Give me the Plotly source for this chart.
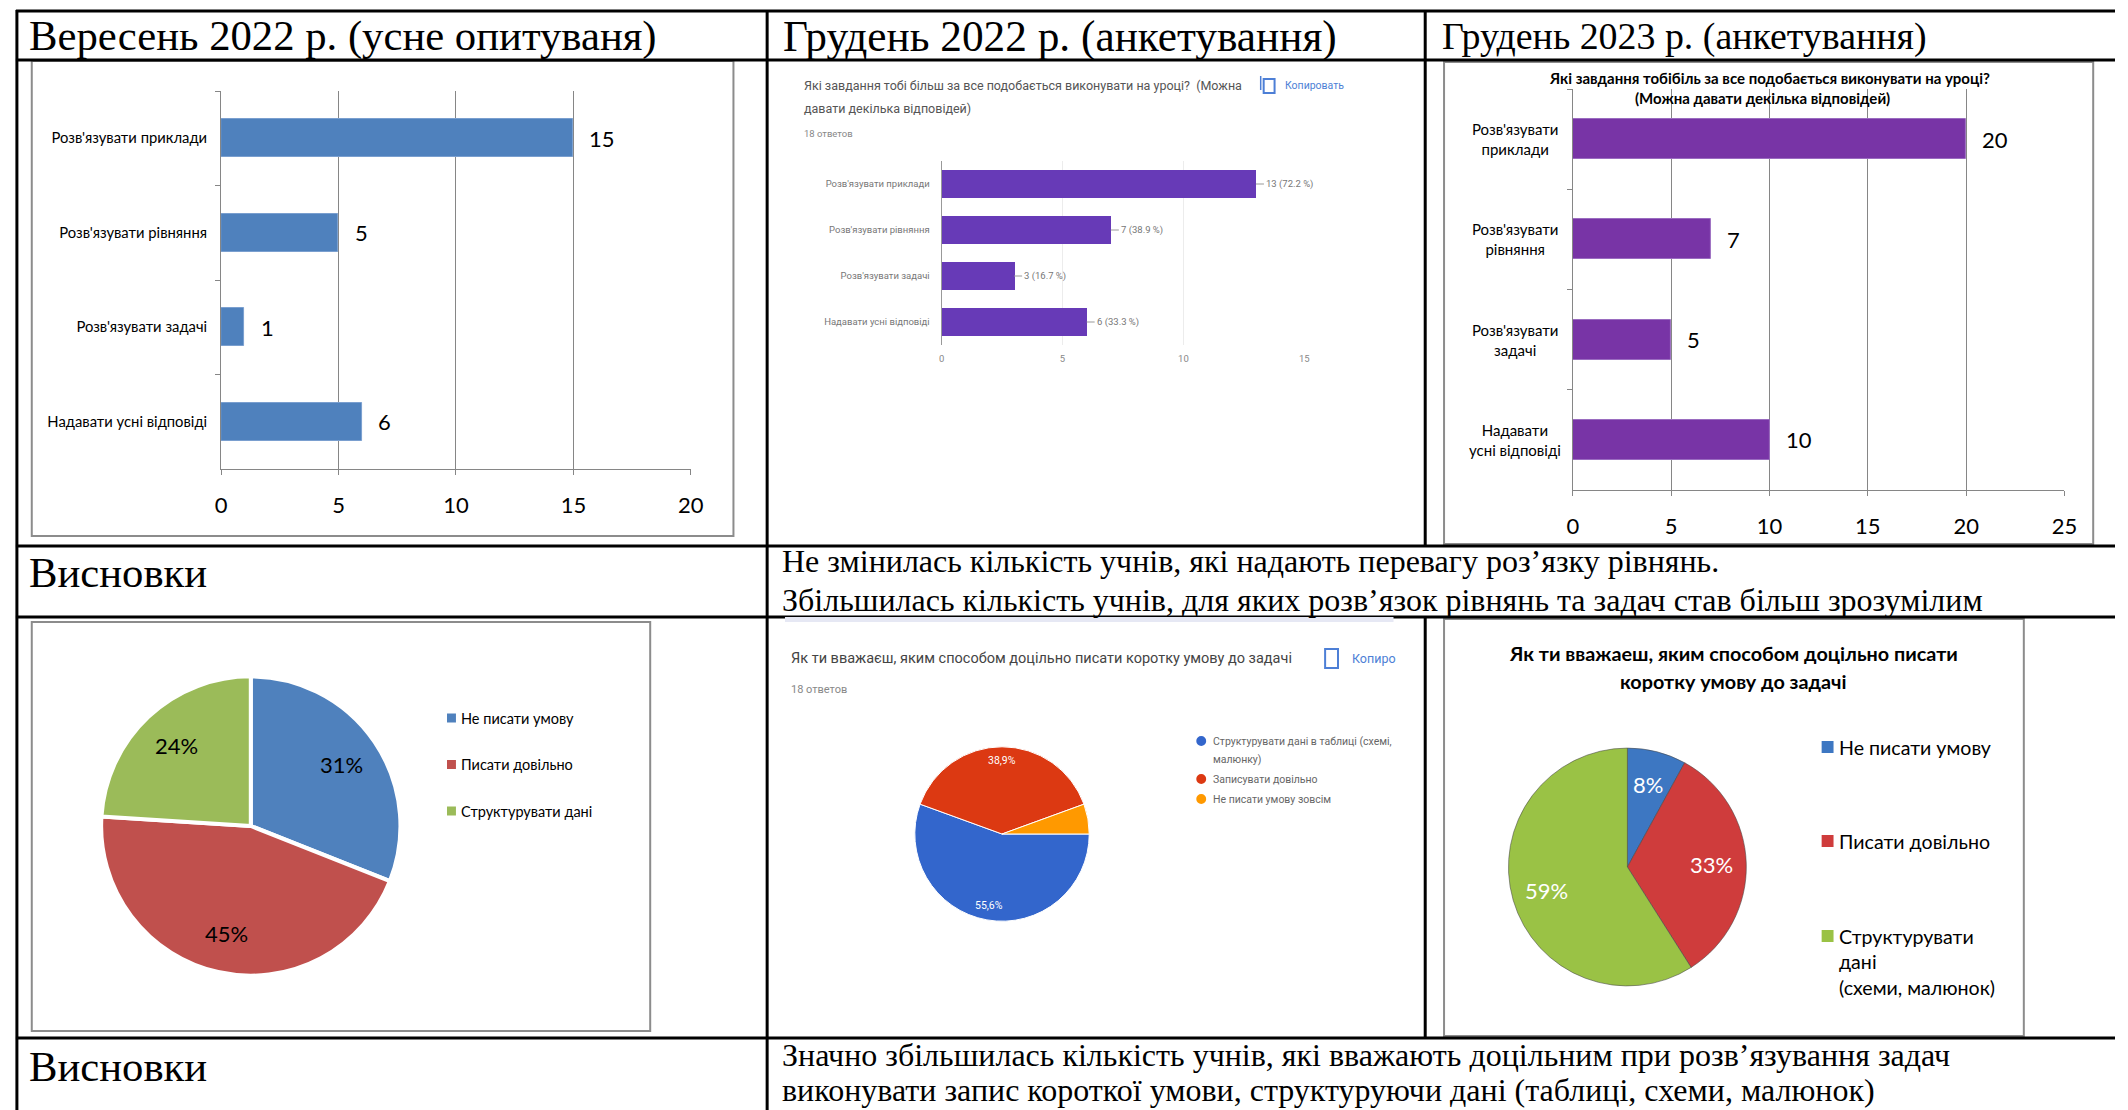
import numpy as np
import plotly.graph_objects as go

W, H = 2128, 1110
def X(px): return px / W
def Y(py): return 1 - py / H

# ---------------- data ----------------
headers = ["Вересень 2022 р. (усне опитуваня)", "Грудень 2022 р. (анкетування)", "Грудень 2023 р. (анкетування)"]
concl_label = "Висновки"
concl1 = ["Не змінилась кількість учнів, які надають перевагу роз’язку рівнянь.",
          "Збільшилась кількість учнів, для яких розв’язок рівнянь та задач став більш зрозумілим"]
concl2 = ["Значно збільшилась кількість учнів, які вважають доцільним при розв’язування задач",
          "виконувати запис короткої умови, структуруючи дані (таблиці, схеми, малюнок)"]

tasks = ["Розв'язувати приклади", "Розв'язувати рівняння", "Розв'язувати задачі", "Надавати усні відповіді"]
tasks_2023 = ["Розв'язувати<br>приклади", "Розв'язувати<br>рівняння", "Розв'язувати<br>задачі", "Надавати<br>усні відповіді"]
sep2022 = [15, 5, 1, 6]
dec2022 = [13, 7, 3, 6]
dec2022_pct = ["72.2 %", "38.9 %", "16.7 %", "33.3 %"]
dec2023 = [20, 7, 5, 10]
ticks_sep = [0, 5, 10, 15, 20]
ticks_dec22 = [0, 5, 10, 15]
ticks_dec23 = [0, 5, 10, 15, 20, 25]

g_bar_title = ["Які завдання тобі більш за все подобається виконувати на уроці?  (Можна",
               "давати декілька відповідей)"]
g_pie_title = "Як ти вважаєш, яким способом доцільно писати коротку умову до задачі"
g_answers = "18 ответов"
g_copy = "Копировать"
g_copy_short = "Копиро"
bar23_title = ["Які завдання тобібіль за все подобається виконувати на уроці?",
               "(Можна давати декілька відповідей)"]
pie23_title = ["Як ти вважаеш, яким способом доцільно писати", "коротку умову до задачі"]

pie_sep_labels = ["Не писати умову", "Писати довільно", "Структурувати дані"]
pie_sep_values = [31, 45, 24]
pie_sep_text = ["31%", "45%", "24%"]
pie_dec22_labels = ["Структурувати дані в таблиці (схемі,<br>малюнку)", "Записувати довільно", "Не писати умову зовсім"]
pie_dec22_values = [10, 7, 1]
pie_dec22_text = ["55,6%", "38,9%", ""]
pie_dec23_labels = ["Не писати умову", "Писати довільно", "Структурувати<br>дані<br>(схеми, малюнок)"]
pie_dec23_values = [8, 33, 59]
pie_dec23_text = ["8%", "33%", "59%"]

# ---------------- styles ----------------
SERIF = "Liberation Serif"
CAL = "Lato"
ROB = "Roboto"
GRID = "#868686"
C_BLUE, C_RED, C_GREEN = "#4F81BD", "#C0504D", "#9BBB59"

fig = go.Figure()
ann = []
shapes = []

def txt(x, y, s, size, color="#000", family=CAL, xanchor="left", yanchor="middle", bold=False, align="left"):
    if bold:
        s = "<b>" + s + "</b>"
    ann.append(dict(x=X(x), y=Y(y), xref="paper", yref="paper", text=s, showarrow=False,
                    font=dict(size=size, color=color, family=family),
                    xanchor=xanchor, yanchor=yanchor, align=align))

def rect(x0, y0, x1, y1, line="#8c8c8c", width=2, fill=None, layer="below"):
    shapes.append(dict(type="rect", xref="paper", yref="paper", x0=X(x0), x1=X(x1), y0=Y(y1), y1=Y(y0),
                       line=dict(color=line, width=width), fillcolor=fill, layer=layer))

def hline(y, x0, x1, w=3):
    shapes.append(dict(type="line", xref="paper", yref="paper", x0=X(x0), x1=X(x1), y0=Y(y), y1=Y(y),
                       line=dict(color="#000", width=w)))

def vline(x, y0, y1, w=3):
    shapes.append(dict(type="line", xref="paper", yref="paper", x0=X(x), x1=X(x), y0=Y(y0), y1=Y(y1),
                       line=dict(color="#000", width=w)))

# ---------------- table ----------------
for yy in [11, 60, 546, 617, 1038]:
    hline(yy, 10, W)
vline(11, 10, H)
vline(768, 10, H)
vline(1432, 10, 546)
vline(1432, 617, 1038)

txt(21, 36, headers[0], 42.7, family=SERIF)
txt(782, 36, headers[1], 43.3, family=SERIF)
txt(1447, 36, headers[2], 37.9, family=SERIF)
txt(21, 573, concl_label, 42.7, family=SERIF)
txt(21, 1066, concl_label, 42.7, family=SERIF)
txt(781, 561, concl1[0], 32, family=SERIF)
txt(781, 600, concl1[1], 32, family=SERIF)
txt(781, 1055, concl2[0], 32, family=SERIF)
txt(781, 1090, concl2[1], 32, family=SERIF)

# ---------------- panel 1: bar Sep 2022 ----------------
rect(26, 61, 734, 536)
fig.add_trace(go.Bar(x=sep2022, y=tasks, orientation="h", width=0.4,
                     marker=dict(color=C_BLUE, line=dict(color="#7a9fcf", width=1)),
                     xaxis="x", yaxis="y", hoverinfo="skip"))
for v, c in zip(sep2022, tasks):
    ann.append(dict(x=v, y=c, xref="x", yref="y", text=str(v), showarrow=False, xanchor="left",
                    xshift=14, font=dict(size=22, family=CAL, color="#000")))

# ---------------- panel 2: google bars Dec 2022 ----------------
txt(803, 86, g_bar_title[0], 12.5, color="#555", family=ROB)
txt(803, 108, g_bar_title[1], 12.5, color="#555", family=ROB)
txt(803, 133, g_answers, 9.5, color="#888", family=ROB)
txt(1289, 85, g_copy, 10.5, color="#4d7fd6", family=ROB)
shapes.append(dict(type="rect", xref="paper", yref="paper", x0=X(1269), x1=X(1280), y0=Y(93), y1=Y(79),
                   line=dict(color="#4d7fd6", width=2)))
shapes.append(dict(type="line", xref="paper", yref="paper", x0=X(1266), x1=X(1266), y0=Y(90), y1=Y(76),
                   line=dict(color="#4d7fd6", width=1.5)))
fig.add_trace(go.Bar(x=dec2022, y=tasks, orientation="h", width=0.61,
                     marker=dict(color="#673AB7", line=dict(width=0)),
                     xaxis="x2", yaxis="y2", hoverinfo="skip"))
for v, c, p in zip(dec2022, tasks, dec2022_pct):
    ann.append(dict(x=v, y=c, xref="x2", yref="y2", text=f"{v} ({p})", showarrow=True, arrowhead=0,
                    arrowwidth=1, arrowcolor="#999", ax=8, ay=0, standoff=0, startstandoff=0,
                    xanchor="left", font=dict(size=9.5, family=ROB, color="#777")))

# ---------------- panel 3: bar Dec 2023 ----------------
rect(1451, 62, 2106, 544)
txt(1779, 78, bar23_title[0], 15, xanchor="center", bold=True)
txt(1772, 98, bar23_title[1], 15, xanchor="center", bold=True)
fig.add_trace(go.Bar(x=dec2023, y=tasks, orientation="h", width=0.4,
                     marker=dict(color="#7834A6", line=dict(color="#9a6cc0", width=1)),
                     xaxis="x3", yaxis="y3", hoverinfo="skip"))
for v, c, lab in zip(dec2023, tasks, tasks_2023):
    ann.append(dict(x=v, y=c, xref="x3", yref="y3", text=str(v), showarrow=False, xanchor="left",
                    xshift=14, font=dict(size=22, family=CAL, color="#000")))
    ann.append(dict(x=X(1523), y=c, xref="paper", yref="y3", text=lab, showarrow=False, xanchor="center",
                    align="center", font=dict(size=15, family=CAL, color="#000")))

# ---------------- pies ----------------
def pie_label_xy(values, cx, cy, r, frac, rotation=0):
    v = np.array(values, float)
    mid = np.cumsum(v) - v / 2
    ang = np.radians(rotation + 360 * mid / v.sum())
    return cx + frac * r * np.sin(ang), cy - frac * r * np.cos(ang)

def add_pie(values, colors, cx, cy, r, rotation, line_color, line_w):
    fig.add_trace(go.Pie(values=values, sort=False, direction="clockwise", rotation=rotation,
                         marker=dict(colors=colors, line=dict(color=line_color, width=line_w)),
                         textinfo="none", hoverinfo="skip",
                         domain=dict(x=[X(cx - r), X(cx + r)], y=[Y(cy + r), Y(cy - r)])))

# pie 1
rect(26, 622, 650, 1031)
add_pie(pie_sep_values, [C_BLUE, C_RED, C_GREEN], 247, 826, 151, 0, "#ffffff", 4)
lx, ly = pie_label_xy(pie_sep_values, 247, 826, 151, 0.73)
for x_, y_, t in zip(lx, ly, pie_sep_text):
    txt(x_, y_, t, 22, xanchor="center")
for i, (lab, col) in enumerate(zip(pie_sep_labels, [C_BLUE, C_RED, C_GREEN])):
    yc = 718 + i * 46.5
    rect(445, yc - 4.5, 454, yc + 4.5, line=col, width=0, fill=col, layer="above")
    txt(457, yc, lab, 14.5)

# pie 2 (google)
rect(786, 617, 1400, 622, line="#e6e8f4", width=0, fill="#e6e8f4", layer="above")
txt(790, 658, g_pie_title, 14.5, color="#444", family=ROB)
txt(790, 689, g_answers, 11, color="#888", family=ROB)
txt(1356, 658, g_copy_short, 12.5, color="#4d7fd6", family=ROB)
shapes.append(dict(type="rect", xref="paper", yref="paper", x0=X(1331), x1=X(1344), y0=Y(668), y1=Y(649),
                   line=dict(color="#4d7fd6", width=2)))
g_cols = ["#3366CC", "#DC3912", "#FF9900"]
add_pie(pie_dec22_values, g_cols, 1005, 834, 88, 90, "#ffffff", 1)
lx, ly = pie_label_xy(pie_dec22_values, 1005, 834, 88, 0.83, rotation=90)
for x_, y_, t in zip(lx, ly, pie_dec22_text):
    if t:
        txt(x_, y_, t, 10.5, color="#fff", family=ROB, xanchor="center")
yy = 741
for lab, col in zip(pie_dec22_labels, g_cols):
    shapes.append(dict(type="circle", xref="paper", yref="paper", x0=X(1201), x1=X(1211),
                       y0=Y(yy + 5), y1=Y(yy - 5), line=dict(width=0), fillcolor=col))
    for j, part in enumerate(lab.split("<br>")):
        txt(1216, yy + j * 18, part, 10.5, color="#666", family=ROB)
    yy += 18 * len(lab.split("<br>")) + 2

# pie 3
rect(1451, 619, 2036, 1036)
txt(1743, 653, pie23_title[0], 19.8, xanchor="center", bold=True)
txt(1743, 681, pie23_title[1], 19.8, xanchor="center", bold=True)
p3_cols = ["#3D77C2", "#CF3C3C", "#9AC245"]
add_pie(pie_dec23_values, p3_cols, 1636, 867, 120, 0, "rgba(70,70,70,0.55)", 1)
lx, ly = pie_label_xy(pie_dec23_values, 1636, 867, 120, 0.71)
for x_, y_, t in zip(lx, ly, pie_dec23_text):
    txt(x_, y_, t, 22, color="#fff", xanchor="center")
for lab, col, yc in zip(pie_dec23_labels, p3_cols, [747, 841, 936]):
    rect(1832, yc - 6, 1844, yc + 6, line=col, width=0, fill=col, layer="above")
    for j, part in enumerate(lab.split("<br>")):
        txt(1847, yc + j * 25.5, part, 19.6)

# ---------------- layout ----------------
def xax(dom, rng, ticks, grid, show_line, tfont, standoff, anchor):
    return dict(domain=[X(dom[0]), X(dom[1])], range=rng, tickvals=ticks, showgrid=True,
                gridcolor=grid, gridwidth=1, zeroline=False, showline=show_line, linecolor=GRID,
                ticks="outside" if show_line else "", ticklen=5, tickcolor=GRID, tickfont=tfont,
                ticklabelstandoff=standoff, anchor=anchor, fixedrange=True)

def yax(dom, show_labels, tfont, linecolor, ticks, anchor, standoff=8):
    return dict(domain=[Y(dom[1]), Y(dom[0])], type="category", categoryarray=tasks,
                categoryorder="array", autorange="reversed", showgrid=False, zeroline=False,
                showline=True, linecolor=linecolor, ticks=ticks, tickson="boundaries", ticklen=5,
                tickcolor=GRID, showticklabels=show_labels, tickfont=tfont, anchor=anchor,
                ticklabelstandoff=standoff, fixedrange=True)

fig.update_layout(
    width=W, height=H, margin=dict(l=0, r=0, t=0, b=0),
    paper_bgcolor="white", plot_bgcolor="rgba(0,0,0,0)", showlegend=False,
    bargap=0,
    xaxis=xax((217, 691), [0, 20], ticks_sep, GRID, True, dict(size=22, family=CAL, color="#000"), 12, "y"),
    yaxis=yax((91, 469), True, dict(size=14.8, family=CAL, color="#000"), GRID, "outside", "x", 10),
    xaxis2=xax((944, 1310), [0, 15], ticks_dec22, "#ececec", False, dict(size=9.5, family=ROB, color="#888"), 6, "y2"),
    yaxis2=yax((161, 345), True, dict(size=9.5, family=ROB, color="#777"), "#999", "", "x2", 9),
    xaxis3=xax((1581, 2077), [0, 25], ticks_dec23, GRID, True, dict(size=22, family=CAL, color="#000"), 12, "y3"),
    yaxis3=yax((89, 490), False, dict(size=14, family=CAL), GRID, "outside", "x3"),
    annotations=ann, shapes=shapes,
)

fig.write_html("out.html", config={"displayModeBar": False},
               post_script="document.body.style.margin='0';document.body.style.overflow='hidden';")
